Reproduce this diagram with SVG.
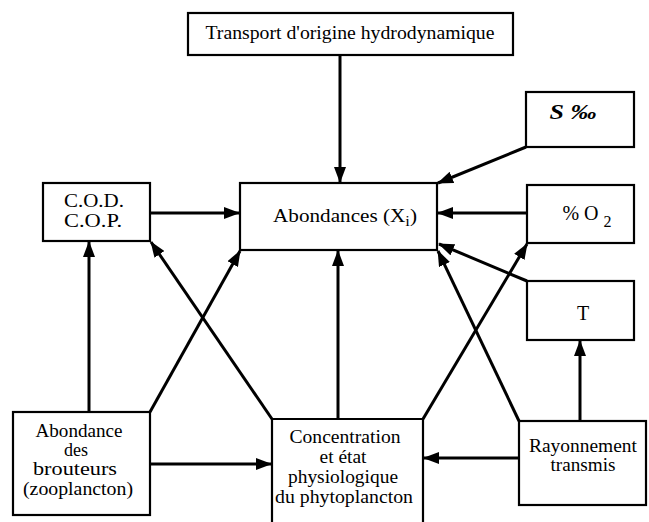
<svg xmlns="http://www.w3.org/2000/svg" width="649" height="522" viewBox="0 0 649 522">
<style>
.box{fill:#fff;stroke:#000;stroke-width:2.2}
.t{font-family:"Liberation Serif","DejaVu Serif","Noto Serif","Times New Roman",serif;font-size:18px;fill:#000;text-anchor:middle}
.c{stroke:#000;stroke-width:3;fill:none;marker-end:url(#ah)}
</style>
<defs>
<marker id="ah" markerUnits="userSpaceOnUse" markerWidth="16" markerHeight="12" refX="15" refY="6" orient="auto" viewBox="0 0 16 12">
<path d="M0,0 L16,6 L0,12 z" fill="#000"/>
</marker>
</defs>
<rect width="649" height="522" fill="#fff"/>
<g id="connectors">
<line class="c" x1="340" y1="55" x2="340" y2="182"/>
<line class="c" x1="150" y1="213" x2="239" y2="213"/>
<line class="c" x1="526" y1="147" x2="438" y2="183"/>
<line class="c" x1="527" y1="213" x2="438" y2="213"/>
<line class="c" x1="527" y1="281" x2="439" y2="244"/>
<line class="c" x1="519" y1="421" x2="438" y2="251"/>
<line class="c" x1="580" y1="421" x2="580" y2="341"/>
<line class="c" x1="519" y1="458" x2="424" y2="458"/>
<line class="c" x1="338" y1="419" x2="338" y2="251"/>
<line class="c" x1="272" y1="419" x2="151" y2="242"/>
<line class="c" x1="423" y1="419" x2="527" y2="244"/>
<line class="c" x1="89" y1="412" x2="89" y2="242"/>
<line class="c" x1="150" y1="412" x2="240" y2="251"/>
<line class="c" x1="150" y1="464" x2="271" y2="464"/>
</g>
<g id="transport">
<rect class="box" x="188" y="13" width="325" height="42"/>
<text class="t" x="350" y="39" textLength="289" lengthAdjust="spacingAndGlyphs">Transport d'origine hydrodynamique</text>
</g>
<g id="salinite">
<rect class="box" x="526" y="92" width="108" height="55"/>
<text class="t" x="573" y="119" style="font-size:20px;font-weight:bold;font-style:italic" textLength="47" lengthAdjust="spacingAndGlyphs">S ‰</text>
</g>
<g id="cod">
<rect class="box" x="43" y="183" width="107" height="58"/>
<text class="t" x="94" y="207" textLength="60" lengthAdjust="spacingAndGlyphs">C.O.D.</text>
<text class="t" x="93" y="227" textLength="58" lengthAdjust="spacingAndGlyphs">C.O.P.</text>
</g>
<g id="abondances">
<rect class="box" x="240" y="183" width="197" height="67"/>
<text class="t" x="345" y="222" textLength="144" lengthAdjust="spacingAndGlyphs">Abondances  (X<tspan font-size="14" dy="4">i</tspan><tspan dy="-4">)</tspan></text>
</g>
<g id="oxygene">
<rect class="box" x="527" y="185" width="107" height="58"/>
<text class="t" x="587" y="220" style="font-size:20px">% O <tspan font-size="16" dy="7">2</tspan></text>
</g>
<g id="temperature">
<rect class="box" x="527" y="281" width="107" height="59"/>
<text class="t" x="583" y="320" style="font-size:20px">T</text>
</g>
<g id="brouteurs">
<rect class="box" x="13" y="412" width="137" height="103"/>
<text class="t" x="79" y="437" textLength="87" lengthAdjust="spacingAndGlyphs">Abondance</text>
<text class="t" x="76" y="456">des</text>
<text class="t" x="75" y="475" textLength="84" lengthAdjust="spacingAndGlyphs">brouteurs</text>
<text class="t" x="78" y="495" textLength="110" lengthAdjust="spacingAndGlyphs">(zooplancton)</text>
</g>
<g id="phytoplancton">
<path class="box" d="M272,530 V419 H423 V530"/>
<text class="t" x="345" y="443" textLength="111" lengthAdjust="spacingAndGlyphs">Concentration</text>
<text class="t" x="343" y="463" textLength="47" lengthAdjust="spacingAndGlyphs">et état</text>
<text class="t" x="343" y="483" textLength="110" lengthAdjust="spacingAndGlyphs">physiologique</text>
<text class="t" x="344" y="503" textLength="138" lengthAdjust="spacingAndGlyphs">du phytoplancton</text>
</g>
<g id="rayonnement">
<rect class="box" x="519" y="421" width="127" height="84"/>
<text class="t" x="583" y="452" textLength="108" lengthAdjust="spacingAndGlyphs">Rayonnement</text>
<text class="t" x="583" y="471" textLength="65" lengthAdjust="spacingAndGlyphs">transmis</text>
</g>
</svg>
